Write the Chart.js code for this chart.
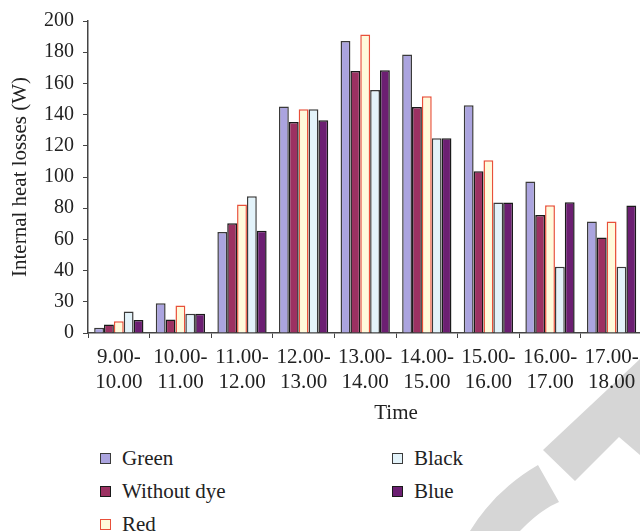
<!DOCTYPE html>
<html>
<head>
<meta charset="utf-8">
<script src="https://cdn.jsdelivr.net/npm/chart.js@4.4.0/dist/chart.umd.min.js"></script>
<style>
  html, body { margin: 0; padding: 0; background: #fff; overflow: hidden; }
  #wrap { position: relative; width: 640px; height: 531px; overflow: hidden; }
  #mark { position: absolute; left: 0; top: 0; }
  #chart { position: absolute; left: 0; top: 0; }
  #legend {
    position: absolute; left: 100px; top: 442px;
    display: grid; grid-auto-flow: column;
    grid-template-rows: 33px 33px 33px; grid-template-columns: 292px 200px;
    font-family: "Liberation Serif", serif; font-size: 21px; color: #222;
  }
  .item { display: flex; align-items: center; }
  .box { width: 9px; height: 9px; margin-right: 11px; }
</style>
</head>
<body>
<div id="wrap">
  <svg id="mark" width="640" height="531">
    <polygon points="543,450 640,359 640,455 619,437 575,481" fill="#d6d6d6"/>
    <path d="M538,465 Q495,490 470,531 L520,531 Q540,510 559,502 Z" fill="#d6d6d6"/>
  </svg>
  <canvas id="chart" width="704" height="430"></canvas>
  <div id="legend"></div>
</div>
<script>
// the figure is cropped on the right: one more time slot lies outside the frame
const timeLabels = [
  ["9.00-", "10.00"], ["10.00-", "11.00"], ["11.00-", "12.00"],
  ["12.00-", "13.00"], ["13.00-", "14.00"], ["14.00-", "15.00"],
  ["15.00-", "16.00"], ["16.00-", "17.00"], ["17.00-", "18.00"], ""
];
const green = [3.4, 19, 64.8, 145.2, 187.1, 178.6, 146, 97.1, 71.5];
const withoutDye = [5.5, 8.7, 70.3, 135.2, 168, 144.8, 103.7, 75.6, 61.2];
const red = [7.6, 17.6, 82.3, 143.5, 191.3, 151.7, 110.7, 81.9, 71.5];
const black = [13.8, 12.3, 87.6, 143.5, 155.8, 124.9, 83.6, 42.5, 42.5];
const blue = [8.3, 12.3, 65.6, 136.3, 168.5, 124.9, 83.6, 83.8, 81.7];
const yTickLabels = ["0", "30", "40", "60", "80", "100", "120", "140", "160", "180", "200"];

const serif = "'Liberation Serif', 'Times New Roman', serif";
Chart.defaults.font.family = serif;
Chart.defaults.color = "#222";

function series(label, data, fill, border) {
  return {
    label: label,
    data: data,
    backgroundColor: fill,
    borderColor: border,
    borderWidth: 1.5,
    categoryPercentage: 0.8,
    barPercentage: 1.0
  };
}

const chart = new Chart(document.getElementById("chart"), {
  type: "bar",
  data: {
    labels: timeLabels,
    datasets: [
      series("Green", green, "#aba4df", "#3a3a3a"),
      series("Without dye", withoutDye, "#9c3162", "#1a1a1a"),
      series("Red", red, "#fffadb", "#e8503a"),
      series("Black", black, "#e3f3fa", "#3a3a3a"),
      series("Blue", blue, "#6c1f72", "#1a1a1a")
    ]
  },
  options: {
    responsive: false,
    animation: false,
    layout: { padding: { top: 18, left: 0, right: 0, bottom: 0 } },
    plugins: { legend: { display: false }, tooltip: { enabled: false } },
    scales: {
      x: {
        grid: { display: true, drawOnChartArea: false, drawTicks: true, tickLength: 5, color: "#444", offset: true },
        border: { display: true, color: "#444", width: 1.5 },
        ticks: { font: { size: 21, lineHeight: 1.2 }, padding: 7, maxRotation: 0, autoSkip: false, color: "#222" },
        title: { display: true, text: "Time", font: { size: 21 }, padding: { top: 0, bottom: 4 }, color: "#222" },
        afterFit: (s) => { s.height = 97; }
      },
      y: {
        min: 0,
        max: 200,
        grid: { display: true, drawOnChartArea: false, drawTicks: true, tickLength: 5, color: "#444" },
        border: { display: true, color: "#444", width: 1.5 },
        ticks: {
          stepSize: 20,
          padding: 9,
          font: { size: 20 },
          color: "#222",
          callback: (v, i) => yTickLabels[i]
        },
        title: { display: true, text: "Internal heat losses (W)", font: { size: 21 }, padding: { top: 8, bottom: 0 }, color: "#222" },
        afterFit: (s) => { s.width = 88; }
      }
    }
  }
});

// legend built from the chart's datasets, laid out in columns like the original
const legend = document.getElementById("legend");
chart.data.datasets.forEach((ds) => {
  const item = document.createElement("div");
  item.className = "item";
  const box = document.createElement("span");
  box.className = "box";
  box.style.background = ds.backgroundColor;
  box.style.border = "1.5px solid " + ds.borderColor;
  const txt = document.createElement("span");
  txt.textContent = ds.label;
  item.appendChild(box);
  item.appendChild(txt);
  legend.appendChild(item);
});
</script>
</body>
</html>
